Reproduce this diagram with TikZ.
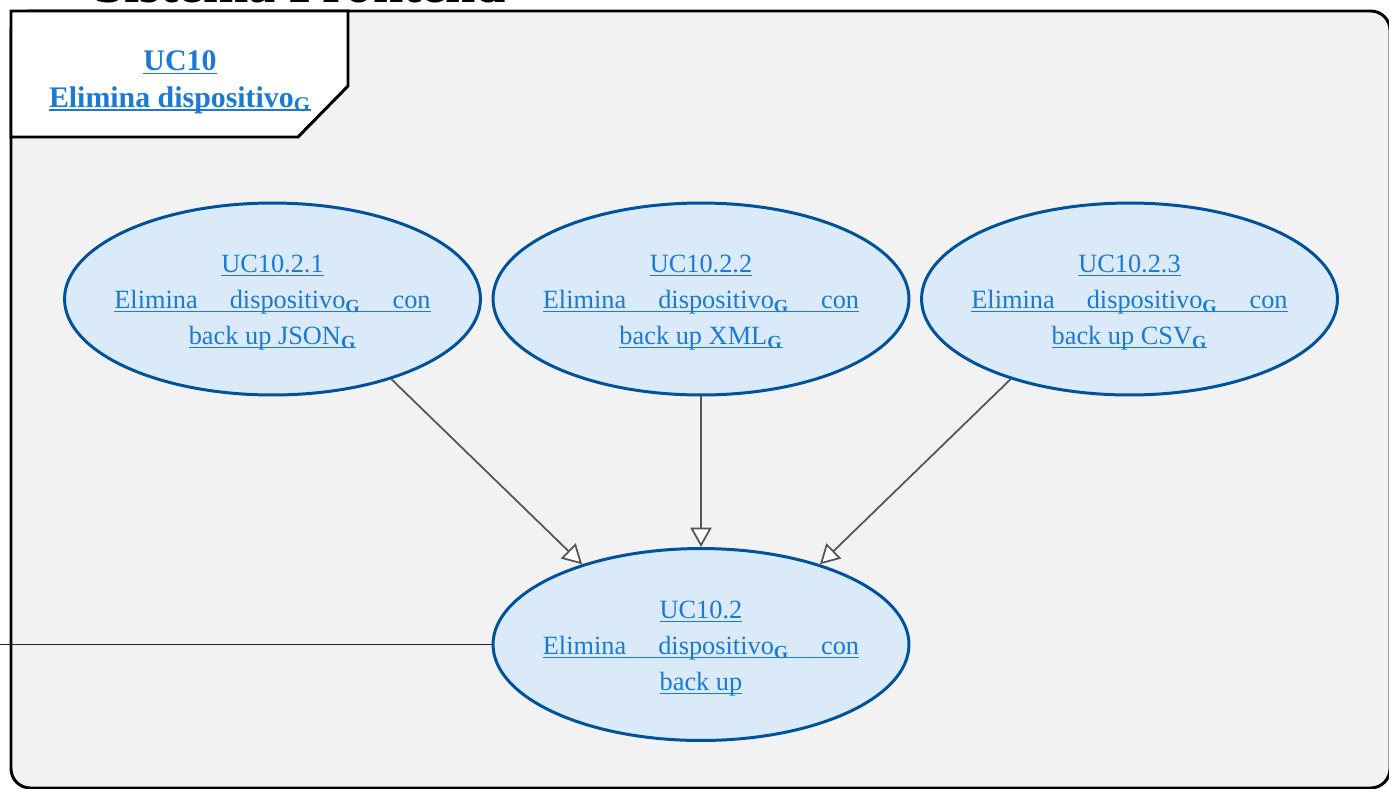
\documentclass[tikz,border=0pt]{standalone}
\usepackage{fontspec}
\setmainfont{Liberation Serif}
\usepackage{tikz}
\usetikzlibrary{arrows.meta,shapes.geometric}

\definecolor{ucblue}{HTML}{1A7AD4}
\definecolor{ucborder}{HTML}{00529B}
\definecolor{ucfill}{HTML}{DAEAF8}
\definecolor{sysfill}{HTML}{F2F2F2}
\definecolor{arrowgray}{HTML}{555555}

\newsavebox{\ulinebox}
\newcommand{\ulink}[1]{\sbox{\ulinebox}{#1}\rlap{\rule[-2pt]{\wd\ulinebox}{0.7pt}}\usebox{\ulinebox}}
\newcommand{\spreadline}[1]{\ulink{\hbox to 180pt{#1}}}
\newcommand{\gloss}{\textsubscript{\textbf{G}}}

\begin{document}
\begin{tikzpicture}[x=0.02cm, y=-0.02cm,
    usecase/.style={ellipse, draw=ucborder, fill=ucfill, line width=1.7pt,
      minimum width=8.32cm, minimum height=3.84cm, inner sep=0pt},
    uctext/.style={align=center, text=ucblue, yshift=-0.08cm,
      font=\fontsize{15}{20.5}\selectfont},
    generalization/.style={draw=arrowgray, line width=1pt,
      -{Triangle[fill=white, length=11pt, width=12pt]}}]
    \useasboundingbox (0, 0) rectangle (1389, 788);
    \clip (0, 0) rectangle (1389, 788);

    % system boundary
    \draw [line width=1.7pt, fill=sysfill, rounded corners=11pt] (11, 11) rectangle (1390, 788);
    \node [anchor=base west, font=\bfseries\fontsize{31}{31}\selectfont] (title) at (88, 2.5) {Sistema Frontend};
    \draw [line width=1.7pt, fill=white] (11, 11) -- (348, 11) -- (348, 86) -- (298, 137) -- (11, 137) -- cycle;
    \node [align=center, text=ucblue, font=\bfseries\fontsize{17}{21}\selectfont] (header) at (180, 82)
      {\ulink{UC10}\\ \ulink{Elimina dispositivo\gloss}};

    % use cases
    \node [usecase] (e1) at (272.5, 299) {};
    \node [uctext] (e1t) at (e1.center) {\ulink{UC10.2.1}\\ \spreadline{Elimina\hfill dispositivo\gloss\hfill con}\\ \ulink{back up JSON\gloss}};
    \node [usecase] (e2) at (701, 299) {};
    \node [uctext] (e2t) at (e2.center) {\ulink{UC10.2.2}\\ \spreadline{Elimina\hfill dispositivo\gloss\hfill con}\\ \ulink{back up XML\gloss}};
    \node [usecase] (e3) at (1129.5, 299) {};
    \node [uctext] (e3t) at (e3.center) {\ulink{UC10.2.3}\\ \spreadline{Elimina\hfill dispositivo\gloss\hfill con}\\ \ulink{back up CSV\gloss}};
    \node [usecase] (e0) at (701, 644.5) {};
    \node [uctext] (e0t) at (e0.center) {\ulink{UC10.2}\\ \spreadline{Elimina\hfill dispositivo\gloss\hfill con}\\ \ulink{back up}};

    \draw [generalization] (e1.-34) -- (e0.146);
    \draw [generalization] (e2.south) -- (e0.north);
    \draw [generalization] (e3.-146) -- (e0.34);

    \coordinate (ext) at (-5, 644.5);
    \draw [line width=0.7pt, black!85] (ext) -- (e0.west);
\end{tikzpicture}
\end{document}
